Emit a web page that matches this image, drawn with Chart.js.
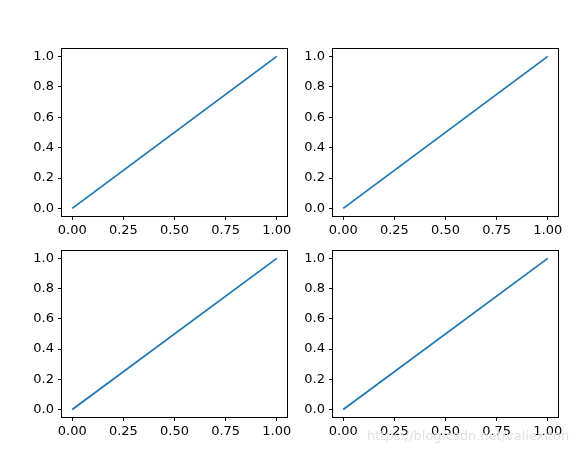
<!DOCTYPE html>
<html>
<head>
<meta charset="utf-8">
<script src="https://cdn.jsdelivr.net/npm/chart.js@4/dist/chart.umd.min.js"></script>
<style>
  body { margin: 0; background: #fff; width: 579px; height: 454px; overflow: hidden; position: relative; }
  .panel { position: absolute; }
  #mark { position: absolute; left: 367px; top: 428px; font: 13px "DejaVu Sans", sans-serif; color: #e2e2e2; white-space: nowrap; }
</style>
</head>
<body>
<div class="panel" id="p1"><canvas id="c1"></canvas></div>
<div class="panel" id="p2"><canvas id="c2"></canvas></div>
<div class="panel" id="p3"><canvas id="c3"></canvas></div>
<div class="panel" id="p4"><canvas id="c4"></canvas></div>
<div id="mark">https://blog.csdn.net/valiexiton</div>
<script>
// data: same line in all four subplots
const xValues = [0, 1];
const yValues = [0, 1];
const xTicks = [0, 0.25, 0.5, 0.75, 1];
const xTickLabels = ["0.00", "0.25", "0.50", "0.75", "1.00"];
const yTicks = [0, 0.2, 0.4, 0.6, 0.8, 1];
const yTickLabels = ["0.0", "0.2", "0.4", "0.6", "0.8", "1.0"];

// plot area boxes: [left, top, right, bottom]
const boxes = [
  [62, 47, 287, 216],
  [333, 47, 558, 216],
  [62, 249, 287, 417],
  [333, 249, 558, 417],
];

const Y_AXIS_W = 62;
const X_AXIS_H = 30;
const PAD_TOP = 10;
const PAD_RIGHT = 12;

const frame = {
  id: "frame",
  afterDraw(chart) {
    const a = chart.chartArea;
    const c = chart.ctx;
    c.save();
    c.strokeStyle = "#000";
    c.lineWidth = 1;
    c.strokeRect(Math.round(a.left) - 0.5, Math.round(a.top) - 0.5,
      Math.round(a.right - a.left) + 1, Math.round(a.bottom - a.top) + 1);
    c.restore();
  },
};

const tickFont = { family: "DejaVu Sans", size: 13 };

function makeChart(i) {
  const [l, t, r, b] = boxes[i];
  const left = l - Y_AXIS_W;
  const top = t - PAD_TOP;
  const w = r - left + PAD_RIGHT;
  const h = b - top + X_AXIS_H;
  const panel = document.getElementById("p" + (i + 1));
  panel.style.left = left + "px";
  panel.style.top = top + "px";
  const canvas = document.getElementById("c" + (i + 1));
  canvas.width = w;
  canvas.height = h;
  canvas.style.width = w + "px";
  canvas.style.height = h + "px";

  new Chart(canvas, {
    type: "line",
    data: {
      datasets: [
        {
          data: xValues.map((x, k) => ({ x: x, y: yValues[k] })),
          borderColor: "#1f77b4",
          borderWidth: 1.8,
          pointRadius: 0,
          tension: 0,
        },
      ],
    },
    options: {
      responsive: false,
      animation: false,
      layout: { padding: { left: 0, top: PAD_TOP, right: PAD_RIGHT, bottom: 0 } },
      plugins: { legend: { display: false }, tooltip: { enabled: false } },
      scales: {
        x: {
          type: "linear",
          min: -0.05,
          max: 1.05,
          afterFit: (s) => { s.height = X_AXIS_H; },
          afterBuildTicks: (s) => { s.ticks = xTicks.map((v) => ({ value: v })); },
          grid: { drawOnChartArea: false, drawTicks: true, tickLength: 4, color: "#000" },
          border: { display: false },
          ticks: {
            font: tickFont,
            color: "#000",
            padding: 3,
            maxRotation: 0,
            autoSkip: false,
            callback: (v) => xTickLabels[xTicks.indexOf(v)],
          },
        },
        y: {
          type: "linear",
          min: -0.05,
          max: 1.05,
          afterFit: (s) => { s.width = Y_AXIS_W; },
          afterBuildTicks: (s) => { s.ticks = yTicks.map((v) => ({ value: v })); },
          grid: { drawOnChartArea: false, drawTicks: true, tickLength: 4, color: "#000" },
          border: { display: false },
          ticks: {
            font: tickFont,
            color: "#000",
            padding: 4,
            autoSkip: false,
            callback: (v) => yTickLabels[yTicks.indexOf(v)],
          },
        },
      },
    },
    plugins: [frame],
  });
}

for (let i = 0; i < 4; i++) makeChart(i);
</script>
</body>
</html>
